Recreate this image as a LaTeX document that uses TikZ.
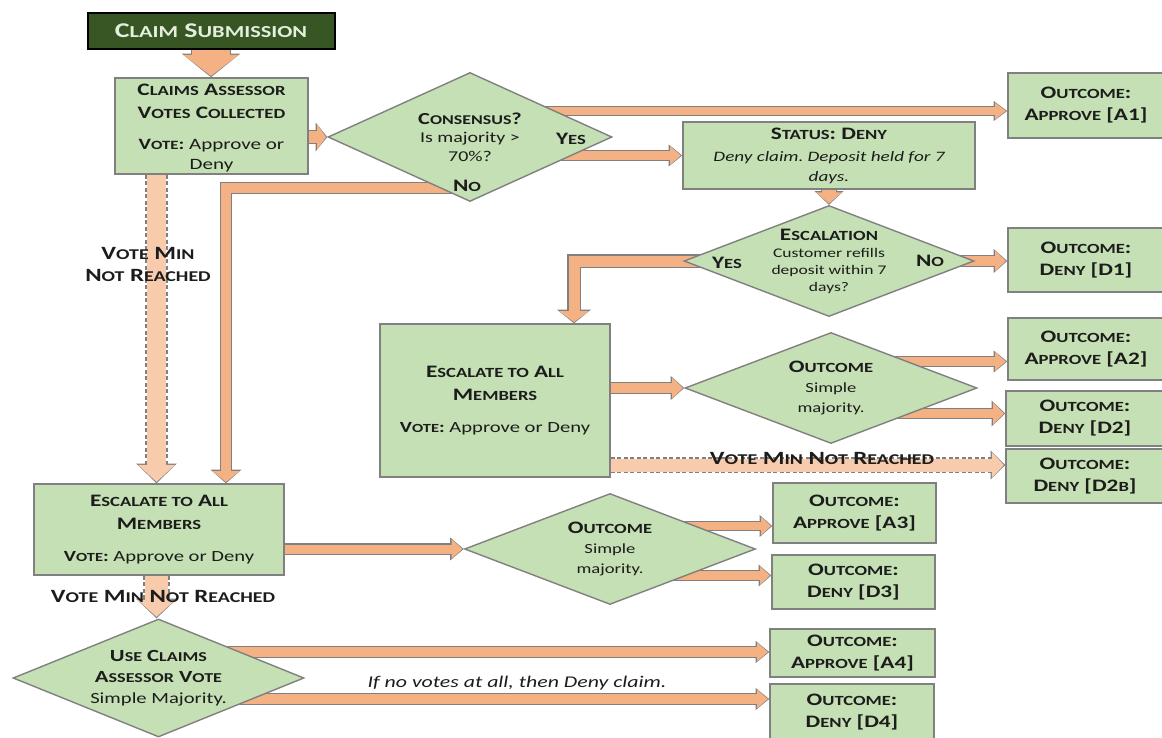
\documentclass[tikz,border=0pt]{standalone}
\usepackage{fontspec}
\setmainfont{Carlito}[FakeStretch=1.33]
\usetikzlibrary{shapes.geometric,arrows.meta,backgrounds,calc}

\definecolor{boxgreen}{HTML}{C5E0B4}
\definecolor{darkgreen}{HTML}{375623}
\definecolor{edgegrey}{HTML}{808080}
\definecolor{flowfill}{HTML}{F4B183}
\definecolor{skipfill}{HTML}{F8CBAD}
\definecolor{inktext}{HTML}{1C1C1C}
\definecolor{paletext}{HTML}{E4EEDC}

% small capitals made by hand
\makeatletter
\newcommand\smc[1]{{\@tempdima=\f@size pt\@tempdima=0.8\@tempdima
  \fontsize{\strip@pt\@tempdima}{\f@baselineskip}\selectfont\MakeUppercase{#1}}}
\makeatother
\newcommand\hf{\fontsize{17.5}{22}\selectfont\bfseries}
\newcommand\bodyf{\fontsize{15.5}{20}\selectfont}
\frenchspacing

\begin{document}
\begin{tikzpicture}[x=1pt, y=-1pt,
  box/.style={draw=edgegrey, fill=boxgreen, line width=1.4pt, align=center, text=inktext, inner sep=2pt, font=\bodyf},
  result/.style={box, font=\hf, execute at begin node={\rule{0pt}{16pt}}},
  choice/.style={diamond, draw=edgegrey, fill=boxgreen, line width=1.4pt, align=center, text=inktext, inner sep=-22pt},
  tag/.style={text=inktext, font=\hf, align=center, inner sep=1pt},
  flow/.style n args={3}{
    /utils/exec={\pgfmathsetmacro\flowS{#1+2.4}\pgfmathsetmacro\flowW{#2+3}\pgfmathsetmacro\flowL{#3+2.6}},
    preaction={draw=edgegrey, line width=\flowS pt, -{Triangle[width=\flowW pt, length=\flowL pt]}, shorten >=0pt},
    draw=flowfill, line width=#1pt, line join=miter, -{Triangle[width=#2pt, length=#3pt]}, shorten >=1.3pt},
  lowvote/.style n args={3}{
    /utils/exec={\pgfmathsetmacro\flowS{#1+3.6}\pgfmathsetmacro\flowW{#2+3.4}\pgfmathsetmacro\flowL{#3+2.8}},
    preaction={draw=edgegrey, line width=\flowS pt, dash pattern=on 4pt off 2.5pt, -{Triangle[width=\flowW pt, length=\flowL pt]}, shorten >=0pt},
    draw=skipfill, line width=#1pt, -{Triangle[width=#2pt, length=#3pt]}, shorten >=1.4pt}]
  \useasboundingbox (0,0) rectangle (1162,738);

  % left column
  \node[draw=black, line width=2pt, fill=darkgreen, text=paletext, font=\fontsize{21}{24}\selectfont\bfseries, minimum width=247, minimum height=36] (sub) at (211,31) {C\smc{laim} S\smc{ubmission}};
  \node[box, minimum width=193, minimum height=96, font=\fontsize{15.8}{20}\selectfont] (cav) at (211.5,126) {{\hf\rule{0pt}{15pt}C\smc{laims} A\smc{ssessor}}\\[3pt]{\hf V\smc{otes} C\smc{ollected}}\\[11pt]{\bfseries V\smc{ote}:} Approve or\\Deny};
  \node[box, minimum width=250, minimum height=91] (all2) at (159,529.5) {{\hf E\smc{scalate to} A\smc{ll}}\\[3pt]{\hf M\smc{embers}}\\[12pt]{\bfseries V\smc{ote}:} Approve or Deny};
  \node[choice, minimum width=291, minimum height=118, font=\fontsize{15.5}{21}\selectfont] (use) at (158.5,678) {{\fontsize{17}{21}\selectfont\bfseries U\smc{se} C\smc{laims}}\\{\fontsize{17}{21}\selectfont\bfseries A\smc{ssessor} V\smc{ote}}\\Simple Majority.};

  % middle
  \node[choice, minimum width=284, minimum height=129, font=\fontsize{15}{18.5}\selectfont] (cons) at (470,137) {{\fontsize{16.8}{20}\selectfont\bfseries C\smc{onsensus}?}\\Is majority >\\70\%?};
  \node[tag] (consyes) at (571,139) {Y\smc{es}};
  \node[tag] (consno) at (467,186) {N\smc{o}};
  \node[box, minimum width=292, minimum height=67, font=\fontsize{14.4}{20}\selectfont] (stat) at (829,155.5) {{\hf S\smc{tatus}: D\smc{eny}}\\[2pt]{\itshape Deny claim. Deposit held for 7}\\{\itshape days.}};
  \node[choice, minimum width=290, minimum height=111, font=\fontsize{13.2}{17}\selectfont] (esc) at (829,261) {{\hf E\smc{scalation}}\\Customer refills\\deposit within 7\\days?};
  \node[tag] (escyes) at (727,263) {Y\smc{es}};
  \node[tag] (escno) at (930,261) {N\smc{o}};
  \node[box, minimum width=230, minimum height=153] (all1) at (495,400.5) {{\hf E\smc{scalate to} A\smc{ll}}\\[3pt]{\hf M\smc{embers}}\\[12pt]{\bfseries V\smc{ote}:} Approve or Deny};
  \node[choice, minimum width=292, minimum height=111, font=\fontsize{14}{20}\selectfont] (out2) at (831,388) {{\hf O\smc{utcome}}\\Simple\\majority.};
  \node[choice, minimum width=291, minimum height=111, font=\fontsize{14}{20}\selectfont] (out3) at (610,549) {{\hf O\smc{utcome}}\\Simple\\majority.};

  % outcomes
  \node[result, minimum width=156, minimum height=65] (a1) at (1086,105.5) {O\smc{utcome}:\\A\smc{pprove} [A1]};
  \node[result, minimum width=156, minimum height=64] (d1) at (1086,260) {O\smc{utcome}:\\D\smc{eny} [D1]};
  \node[result, minimum width=156, minimum height=62] (a2) at (1086,349) {O\smc{utcome}:\\A\smc{pprove} [A2]};
  \node[result, minimum width=158, minimum height=55] (d2) at (1085,418.5) {O\smc{utcome}:\\D\smc{eny} [D2]};
  \node[result, minimum width=158, minimum height=54] (d2b) at (1085,476) {O\smc{utcome}:\\D\smc{eny} [D2\smc{b}]};
  \node[result, minimum width=163, minimum height=60] (a3) at (854.5,513) {O\smc{utcome}:\\A\smc{pprove} [A3]};
  \node[result, minimum width=163, minimum height=54] (d3) at (853.5,582) {O\smc{utcome}:\\D\smc{eny} [D3]};
  \node[result, minimum width=165, minimum height=48] (a4) at (852.5,653) {O\smc{utcome}:\\A\smc{pprove} [A4]};
  \node[result, minimum width=164, minimum height=57] (d4) at (852,712.5) {O\smc{utcome}:\\D\smc{eny} [D4]};

  % labels on the connectors
  \node[tag, font=\fontsize{18.7}{22}\selectfont\bfseries] (vmin1) at (148,264) {V\smc{ote} M\smc{in}\\N\smc{ot} R\smc{eached}};
  \node[tag, font=\fontsize{18.7}{22}\selectfont\bfseries] (vmin2) at (163,596) {V\smc{ote} M\smc{in} N\smc{ot} R\smc{eached}};
  \node[tag, font=\fontsize{18.7}{22}\selectfont\bfseries] (vmin3) at (822,458) {V\smc{ote} M\smc{in} N\smc{ot} R\smc{eached}};
  \node[text=inktext, font=\fontsize{16.4}{20}\selectfont\itshape, inner sep=1pt] (novote) at (517,683) {If no votes at all, then Deny claim.};

  \begin{scope}[on background layer]
    \draw[flow={38}{54}{21}] (sub.south) -- (sub.south |- cav.north);
    \draw[flow={12}{25}{9}] (cav.east |- cons.west) -- (cons.west);
    \draw[flow={8}{16}{11}] (cons.center |- 0,111) -- (a1.west |- 0,111);
    \draw[flow={9}{18}{11}] (cons.center |- stat.west) -- (stat.west);
    \draw[flow={10.5}{27}{11}] (cons.center |- 0,188) -| ($(all2.north)+(67,0)$);
    \draw[flow={14}{25}{11}] (stat.south) -- (esc.north);
    \draw[flow={10}{20}{11}] (esc.center) -- (esc.center -| d1.west);
    \draw[flow={11}{30}{11}] (esc.center) -| ($(all1.north)+(79,0)$);
    \draw[flow={10}{20}{11}] (all1.east |- out2.west) -- (out2.west);
    \draw[flow={8.5}{18}{11}] (out2.center |- 0,361.5) -- (a2.west |- 0,361.5);
    \draw[flow={9}{22}{11}] (out2.center |- 0,413.5) -- (d2.west |- 0,413.5);
    \draw[lowvote={13}{25}{12}] (all1.east |- 0,465) -- (d2b.west |- 0,465);
    \draw[lowvote={19}{36}{17}] (156.5,0 |- cav.south) -- (156.5,0 |- all2.north);
    \draw[flow={9}{19}{11}] (all2.east |- out3.west) -- (out3.west);
    \draw[flow={8.5}{18}{10}] (out3.center |- 0,526) -- (a3.west |- 0,526);
    \draw[flow={9}{18}{10}] (out3.center |- 0,575.5) -- (d3.west |- 0,575.5);
    \draw[lowvote={23}{37}{17}] (156.5,0 |- all2.south) -- (156.5,0 |- use.north);
    \draw[flow={9.5}{18}{11}] (use.center |- 0,652) -- (a4.west |- 0,652);
    \draw[flow={9.5}{18}{11}] (use.center |- 0,699) -- (d4.west |- 0,699);
  \end{scope}
\end{tikzpicture}
\end{document}
